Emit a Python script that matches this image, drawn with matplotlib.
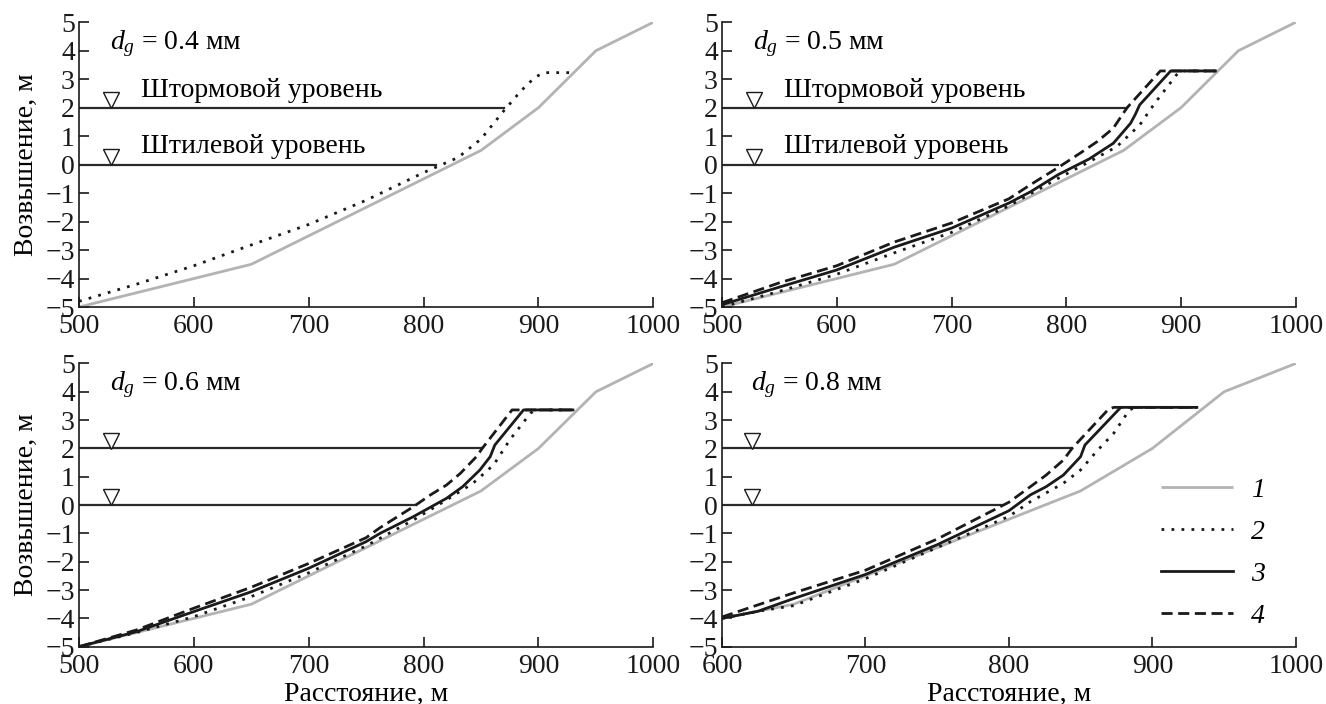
import matplotlib.pyplot as plt
from matplotlib.lines import Line2D

# profile 1 (initial, gray) - same for all panels
PROFILE_X = [500, 650, 800, 850, 900, 950, 1000]
PROFILE_Y = [-5.0, -3.5, -0.5, 0.5, 2.0, 4.0, 5.0]

# d_g = 0.4 mm: only profile 2
D04_X2 = [500, 550, 600, 650, 700, 750, 800, 830, 850, 870, 885, 897, 905, 930]
D04_Y2 = [-4.8, -4.2, -3.55, -2.82, -2.1, -1.25, -0.28, 0.25, 0.9, 1.9, 2.6, 3.07, 3.23, 3.23]

# d_g = 0.5 mm
D05_X2 = [500, 550, 600, 650, 700, 750, 793, 820, 844, 864, 877, 896, 900, 930]
D05_Y2 = [-5.0, -4.45, -3.85, -3.1, -2.38, -1.45, -0.48, 0.1, 0.63, 1.39, 2.15, 3.15, 3.29, 3.29]
D05_X3 = [500, 550, 600, 650, 700, 750, 769, 793, 820, 841, 856, 860, 864, 891, 930]
D05_Y3 = [-4.92, -4.3, -3.7, -2.9, -2.23, -1.35, -0.95, -0.35, 0.2, 0.75, 1.45, 1.75, 2.1, 3.29, 3.29]
D05_X4 = [500, 550, 600, 650, 700, 750, 769, 793, 812, 827, 841, 853, 882, 930]
D05_Y4 = [-4.85, -4.15, -3.55, -2.72, -2.05, -1.2, -0.7, -0.1, 0.4, 0.81, 1.28, 2.0, 3.29, 3.29]

# d_g = 0.6 mm
D06_X2 = [500, 550, 600, 650, 700, 750, 791, 820, 843, 861, 875, 893, 897, 930]
D06_Y2 = [-5.0, -4.5, -3.94, -3.23, -2.39, -1.44, -0.53, 0.18, 0.77, 1.42, 2.3, 3.24, 3.36, 3.36]
D06_X3 = [500, 550, 600, 650, 700, 750, 762, 791, 820, 834, 849, 858, 862, 887, 930]
D06_Y3 = [-5.0, -4.47, -3.76, -3.06, -2.23, -1.29, -1.0, -0.41, 0.24, 0.65, 1.24, 1.71, 2.12, 3.36, 3.36]
D06_X4 = [500, 550, 600, 650, 700, 750, 762, 791, 806, 820, 832, 846, 851, 877, 930]
D06_Y4 = [-5.0, -4.41, -3.64, -2.9, -2.06, -1.15, -0.8, -0.06, 0.36, 0.71, 1.12, 1.71, 2.0, 3.36, 3.36]

# d_g = 0.8 mm
D08_X2 = [600, 625, 650, 700, 750, 800, 815, 838, 850, 861, 873, 884, 888, 931]
D08_Y2 = [-4.0, -3.75, -3.55, -2.6, -1.5, -0.4, 0.12, 0.77, 1.24, 1.89, 2.53, 3.36, 3.45, 3.45]
D08_X3 = [600, 625, 650, 700, 750, 800, 815, 826, 838, 850, 853, 878, 931]
D08_Y3 = [-4.0, -3.75, -3.3, -2.45, -1.4, -0.2, 0.36, 0.65, 1.06, 1.71, 2.12, 3.45, 3.45]
D08_X4 = [600, 650, 700, 750, 800, 815, 826, 838, 844, 869, 873, 931]
D08_Y4 = [-3.95, -3.1, -2.3, -1.2, 0.1, 0.65, 1.06, 1.59, 2.0, 3.36, 3.45, 3.45]

PANEL_LABELS = ["0.4", "0.5", "0.6", "0.8"]
X_MIN = [500, 500, 500, 600]
STORM_END = [870, 853, 851, 844]
CALM_END = [811, 793, 793, 795]
LEVEL_MARK_X = [528, 528, 528, 621]
STORM_LEVEL = 2.0
CALM_LEVEL = 0.0

LEGEND_LABELS = ["1", "2", "3", "4"]

plt.rcParams["font.family"] = ["Liberation Serif", "DejaVu Serif"]
plt.rcParams["mathtext.fontset"] = "custom"
plt.rcParams["mathtext.rm"] = "Liberation Serif"
plt.rcParams["mathtext.it"] = "Liberation Serif:italic"
FS = 20

GRAY = "#b3b3b3"
DARK = "#1a1a1a"
STYLE1 = dict(color=GRAY, lw=2.0, solid_capstyle="butt")
STYLE2 = dict(color=DARK, lw=2.0, linestyle=(0, (1, 2.6)))
STYLE3 = dict(color=DARK, lw=2.0)
STYLE4 = dict(color=DARK, lw=2.0, linestyle=(0, (4, 2)))

fig = plt.figure(figsize=(13.26, 7.04), dpi=100)
positions = [
    [0.0596, 0.5639, 0.4331, 0.4045],
    [0.5445, 0.5639, 0.4327, 0.4045],
    [0.0596, 0.0814, 0.4331, 0.4023],
    [0.5445, 0.0814, 0.4327, 0.4023],
]
curves = [
    [(D04_X2, D04_Y2)],
    [(D05_X2, D05_Y2), (D05_X3, D05_Y3), (D05_X4, D05_Y4)],
    [(D06_X2, D06_Y2), (D06_X3, D06_Y3), (D06_X4, D06_Y4)],
    [(D08_X2, D08_Y2), (D08_X3, D08_Y3), (D08_X4, D08_Y4)],
]
styles = [STYLE2, STYLE3, STYLE4]

for i, pos in enumerate(positions):
    ax = fig.add_axes(pos)
    xmin = X_MIN[i]
    ax.plot(PROFILE_X, PROFILE_Y, **STYLE1)
    ax.plot([xmin, STORM_END[i]], [STORM_LEVEL, STORM_LEVEL], color="#2a2a2a", lw=1.6)
    ax.plot([xmin, CALM_END[i]], [CALM_LEVEL, CALM_LEVEL], color="#2a2a2a", lw=1.6)
    for lvl in (STORM_LEVEL, CALM_LEVEL):
        ax.plot(LEVEL_MARK_X[i], lvl + 0.27, marker="v", ms=11, mfc="white",
                mec=DARK, mew=1.0, ls="none")
    for (xs, ys), st in zip(curves[i], styles):
        ax.plot(xs, ys, **st)

    ax.text(LEVEL_MARK_X[i] - 1, 4.25, "$d_g$ = " + PANEL_LABELS[i] + " мм",
            fontsize=FS, va="center", ha="left")
    if i < 2:
        ax.text(LEVEL_MARK_X[i] + 26, STORM_LEVEL + 0.6, "Штормовой уровень",
                fontsize=FS, va="center", ha="left")
        ax.text(LEVEL_MARK_X[i] + 26, CALM_LEVEL + 0.62, "Штилевой уровень",
                fontsize=FS, va="center", ha="left")

    ax.set_xlim(xmin, 1000)
    ax.set_ylim(-5, 5)
    ax.set_xticks(range(xmin, 1001, 100))
    ax.set_yticks(range(-5, 6))
    for side in ("top", "right"):
        ax.spines[side].set_visible(False)
    for side in ("left", "bottom"):
        ax.spines[side].set_linewidth(1.2)
        ax.spines[side].set_color(DARK)
    ax.tick_params(direction="in", length=7, width=1.2, labelsize=FS, colors=DARK)
    ax.tick_params(axis="x", pad=5)
    ax.tick_params(axis="y", pad=3)
    if i % 2 == 0:
        ax.set_ylabel("Возвышение, м", fontsize=FS, labelpad=5)
    if i >= 2:
        ax.set_xlabel("Расстояние, м", fontsize=FS, labelpad=2)

    if i == 3:
        handles = [Line2D([], [], **STYLE1)] + [Line2D([], [], **st) for st in styles]
        ax.legend(handles, LEGEND_LABELS, loc="upper left",
                  bbox_to_anchor=(0.765, 0.598), frameon=False,
                  prop=dict(size=FS, style="italic"), handlelength=2.6,
                  handletextpad=0.65, labelspacing=0.6, borderpad=0,
                  borderaxespad=0)

fig.savefig("out.png", dpi=100)
